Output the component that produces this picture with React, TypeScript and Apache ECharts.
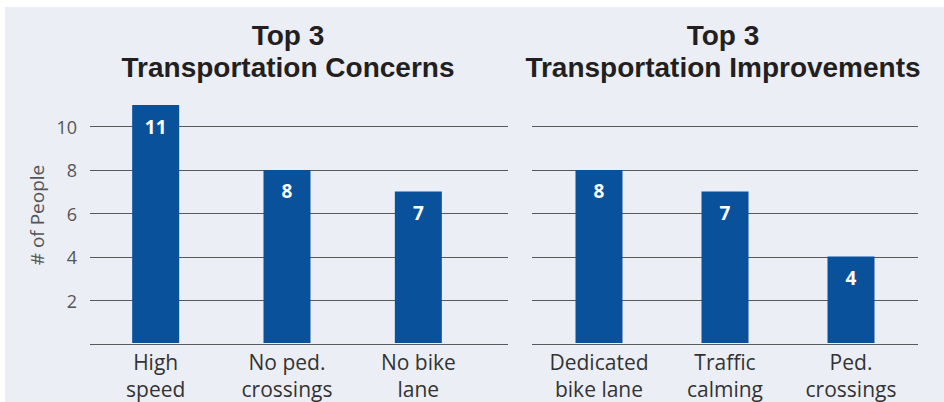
import React, { useEffect, useRef } from "react";
import * as echarts from "echarts";

const concernCategories = ["High\nspeed", "No ped.\ncrossings", "No bike\nlane"];
const concernValues = [11, 8, 7];
const improvementCategories = ["Dedicated\nbike lane", "Traffic\ncalming", "Ped.\ncrossings"];
const improvementValues = [8, 7, 4];
const leftTitleLines = ["Top 3", "Transportation Concerns"];
const rightTitleLines = ["Top 3", "Transportation Improvements"];
const yAxisName = "# of People";

const FONT = "'Open Sans', 'DejaVu Sans', sans-serif";
const TITLE_FONT = "'Liberation Sans', Arial, sans-serif";
const BAR = "#0a519b";
const LINE = "#58595b";

export default function App() {
  const ref = useRef<HTMLDivElement>(null);
  useEffect(() => {
    if (!ref.current) return;
    const chart = echarts.init(ref.current, undefined, { renderer: "svg" });
    const top = 105;
    const height = 239;
    const lineYAxis = (gridIndex: number, showLabels: boolean) => ({
      type: "value",
      gridIndex,
      min: 0,
      max: 11,
      interval: 2,
      axisLine: { show: false },
      axisTick: { show: false },
      axisLabel: {
        show: showLabels,
        showMaxLabel: false,
        showMinLabel: false,
        margin: 13,
        fontSize: 18,
        color: "#555",
        fontFamily: FONT,
      },
      splitLine: { show: true, showMaxLine: false, lineStyle: { color: LINE, width: 1.2 } },
    });
    const hiddenYAxis = (gridIndex: number) => ({
      type: "value",
      gridIndex,
      min: 0,
      max: 11,
      show: false,
      splitLine: { show: false },
    });
    const hiddenX = (gridIndex: number) => ({
      type: "value",
      gridIndex,
      show: false,
      splitLine: { show: false },
    });
    const catX = (gridIndex: number, data: string[]) => ({
      type: "category",
      gridIndex,
      data,
      axisLine: { show: false },
      axisTick: { show: false },
      axisLabel: {
        interval: 0,
        margin: 5,
        fontSize: 21,
        lineHeight: 27,
        color: "#333",
        fontFamily: FONT,
      },
    });
    const barSeries = (idx: number, data: number[]) => ({
      type: "bar",
      xAxisIndex: idx,
      yAxisIndex: idx,
      data,
      barWidth: 47,
      itemStyle: { color: BAR },
      label: {
        show: true,
        position: "insideTop",
        distance: 12,
        color: "#fff",
        fontWeight: "bold",
        fontSize: 19,
        fontFamily: FONT,
      },
      z: 3,
    });
    const titleStyle = {
      fontSize: 28,
      fontWeight: "bold",
      lineHeight: 28,
      color: "#231f20",
      fontFamily: TITLE_FONT,
    };
    const mkTitle = (text: string, cx: number, cy: number) => ({
      text,
      left: cx,
      top: cy - 14,
      padding: 0,
      textAlign: "center",
      textStyle: titleStyle,
    });
    chart.setOption({
      animation: false,
      backgroundColor: "#fff",
      title: [
        mkTitle(leftTitleLines[0], 288, 35),
        mkTitle(leftTitleLines[1], 288, 67),
        mkTitle(rightTitleLines[0], 723, 35),
        mkTitle(rightTitleLines[1], 723, 67),
      ],
      graphic: [
        {
          type: "rect",
          z: -10,
          silent: true,
          shape: { x: 5, y: 7, width: 939, height: 395 },
          style: { fill: "#eceef6" },
        },
        {
          type: "text",
          x: 37,
          y: 215,
          rotation: Math.PI / 2,
          style: {
            text: yAxisName,
            align: "center",
            verticalAlign: "middle",
            fontSize: 19,
            fill: "#555",
            fontFamily: FONT,
          },
        },
      ],
      grid: [
        { left: 90, width: 418, top, height },
        { left: 90, width: 394, top, height },
        { left: 532, width: 386, top, height },
        { left: 536, width: 378, top, height },
      ],
      xAxis: [
        catX(1, concernCategories),
        catX(3, improvementCategories),
        hiddenX(0),
        hiddenX(2),
      ],
      yAxis: [
        hiddenYAxis(1),
        hiddenYAxis(3),
        lineYAxis(0, true),
        lineYAxis(2, false),
      ],
      series: [barSeries(0, concernValues), barSeries(1, improvementValues)],
    });
    return () => chart.dispose();
  }, []);
  return (
    <div
      ref={ref}
      style={{ position: "fixed", left: 0, top: 0, width: 944, height: 402 }}
    />
  );
}
